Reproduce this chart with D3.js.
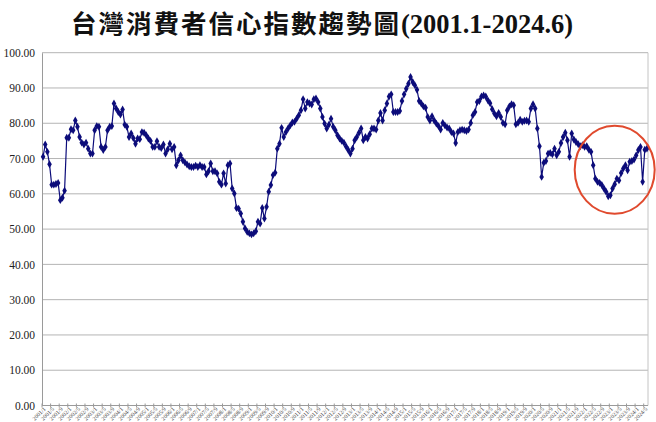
<!DOCTYPE html>
<html>
<head>
<meta charset="utf-8">
<script src="https://cdn.jsdelivr.net/npm/d3@7"></script>
<style>
  body { margin: 0; background: #fff; }
  svg { display: block; }
</style>
</head>
<body>
<svg id="chart"></svg>
<script>
// 台灣消費者信心指數, monthly, 2001.1 - 2024.6
const v2001 = [70.5, 74.0, 71.9, 68.4, 62.6, 62.6, 62.8, 63.1, 58.2, 58.9, 60.9, 75.9];
const v2002 = [75.9, 78.3, 78.0, 80.8, 79.0, 76.1, 74.5, 74.0, 74.5, 72.8, 71.4, 71.4];
const v2003 = [78.0, 79.2, 79.0, 73.3, 72.4, 73.3, 78.0, 79.0, 79.2, 85.6, 84.2, 83.2];
const v2004 = [82.5, 83.9, 79.6, 79.0, 76.1, 77.1, 75.8, 74.2, 75.7, 75.5, 77.5, 77.3];
const v2005 = [76.6, 75.7, 75.0, 73.3, 73.3, 74.9, 73.3, 73.0, 74.0, 71.4, 72.6, 74.2];
const v2006 = [72.6, 73.3, 68.1, 69.5, 70.9, 69.5, 68.9, 68.3, 67.8, 67.6, 67.6, 68.0];
const v2007 = [67.6, 68.1, 67.6, 67.6, 65.5, 66.4, 68.6, 66.4, 66.4, 65.8, 63.4, 62.6];
const v2008 = [65.8, 62.9, 68.1, 68.6, 61.5, 60.1, 56.0, 55.8, 54.4, 52.1, 50.2, 49.2];
const v2009 = [48.8, 48.5, 48.8, 49.4, 52.1, 51.6, 56.0, 53.0, 56.3, 60.6, 62.5, 65.3];
const v2010 = [66.0, 72.8, 74.2, 78.7, 76.1, 77.5, 78.5, 79.4, 80.2, 80.4, 81.3, 82.3];
const v2011 = [83.7, 86.8, 84.2, 86.0, 85.6, 85.3, 86.8, 87.0, 86.0, 84.2, 81.8, 79.9];
const v2012 = [78.5, 79.6, 81.3, 79.0, 78.0, 76.6, 75.7, 75.0, 74.5, 73.4, 72.4, 71.4];
const v2013 = [72.8, 75.2, 76.1, 77.3, 78.5, 75.2, 76.1, 75.7, 76.9, 78.5, 78.5, 78.2];
const v2014 = [80.8, 82.9, 80.8, 83.7, 85.6, 87.6, 88.2, 83.2, 83.2, 83.2, 83.5, 86.3];
const v2015 = [88.2, 89.8, 91.2, 93.1, 91.7, 90.8, 89.5, 86.3, 85.6, 84.8, 84.4, 81.8];
const v2016 = [80.8, 82.0, 80.8, 79.9, 79.2, 78.2, 80.1, 79.4, 78.8, 78.5, 77.5, 77.1];
const v2017 = [74.4, 77.5, 78.0, 78.2, 78.0, 77.8, 78.2, 80.1, 82.3, 83.2, 86.0, 86.3];
const v2018 = [87.6, 87.9, 87.6, 86.5, 85.7, 84.0, 82.8, 82.0, 82.9, 81.8, 80.1, 79.7];
const v2019 = [83.7, 84.8, 85.4, 85.1, 79.7, 80.1, 81.0, 80.4, 80.7, 80.8, 80.4, 84.2];
const v2020 = [85.4, 84.2, 78.5, 73.5, 64.8, 68.8, 69.3, 71.4, 71.6, 71.2, 72.8, 70.9];
const v2021 = [71.9, 74.4, 76.1, 77.3, 75.2, 70.5, 77.1, 75.4, 74.7, 74.1, 73.5, 73.8];
const v2022 = [73.3, 73.5, 72.5, 71.9, 68.1, 64.3, 63.4, 63.1, 62.5, 61.5, 60.6, 59.3];
const v2023 = [59.6, 61.5, 62.7, 64.3, 63.8, 65.9, 67.2, 68.1, 66.7, 69.1, 69.3, 69.7];
const v2024 = [70.9, 72.4, 73.3, 63.4, 72.5, 72.8];

const yearly = [v2001, v2002, v2003, v2004, v2005, v2006, v2007, v2008, v2009, v2010, v2011, v2012,
                v2013, v2014, v2015, v2016, v2017, v2018, v2019, v2020, v2021, v2022, v2023, v2024];
const startYear = 2001;
const yTicks = [0, 10, 20, 30, 40, 50, 60, 70, 80, 90, 100];
const title = "台灣消費者信心指數趨勢圖";
const titleRange = "(2001.1-2024.6)";

// flatten into {label, value}
var data = [];
yearly.forEach(function(arr, k) {
  arr.forEach(function(v, m) {
    data.push({ label: (startYear + k) + "/" + (m + 1), value: v });
  });
});

const W = 656, H = 422;
const margin = { top: 52.7, right: 8, bottom: 17, left: 42 };
const width = W - margin.left - margin.right;
const height = 405.5 - margin.top;

var svg = d3.select("#chart").attr("width", W).attr("height", H);

// title
var t = svg.append("text")
  .attr("x", 322).attr("y", 33)
  .attr("text-anchor", "middle")
  .style("font-weight", "bold")
  .style("font-size", "25.5px")
  .attr("fill", "#111");
t.append("tspan").text(title)
  .style("font-family", "'Noto Sans CJK TC', 'Noto Sans CJK SC', sans-serif")
  .style("letter-spacing", "2px");
t.append("tspan").text(titleRange)
  .style("font-family", "'Liberation Serif', 'DejaVu Serif', serif")
  .style("font-size", "26.5px");

var g = svg.append("g")
  .attr("transform", "translate(" + margin.left + "," + margin.top + ")");

var x = d3.scaleBand().domain(d3.range(data.length)).range([0, width]);
var y = d3.scaleLinear().domain([0, 100]).range([height, 0]);
var cx = i => x(i) + x.bandwidth() / 2;

// gridlines
g.append("g").selectAll("line")
  .data(yTicks.filter(d => d > 0))
  .enter().append("line")
  .attr("x1", 0).attr("x2", width)
  .attr("y1", d => y(d)).attr("y2", d => y(d))
  .attr("stroke", "#b4b4b4").attr("stroke-width", 1);

// right border of plot area
g.append("line")
  .attr("x1", width).attr("x2", width)
  .attr("y1", 0).attr("y2", height)
  .attr("stroke", "#c4c4c4");

// y axis
var yAxis = g.append("g")
  .call(d3.axisLeft(y).tickValues(yTicks).tickFormat(d3.format(".2f")).tickSize(0).tickPadding(7));
yAxis.select(".domain").attr("stroke", "#9a9a9a");
yAxis.selectAll("text")
  .style("font-family", "'Liberation Serif', 'DejaVu Serif', serif")
  .style("font-size", "11.5px")
  .attr("fill", "#222");

// x axis: ticks every 4 months, tiny slanted labels
var tickIdx = d3.range(0, data.length, 4);
var xg = g.append("g").attr("transform", "translate(0," + height + ")");
xg.append("line").attr("x1", 0).attr("x2", width).attr("stroke", "#9a9a9a");
xg.selectAll(".tk").data(tickIdx).enter().append("line")
  .attr("class", "tk")
  .attr("x1", d => x(d)).attr("x2", d => x(d))
  .attr("y1", -2).attr("y2", 2)
  .attr("stroke", "#9a9a9a");
xg.selectAll(".lb").data(tickIdx).enter().append("text")
  .attr("class", "lb")
  .attr("transform", d => "translate(" + (cx(d) + 3) + ",4) rotate(-45)")
  .attr("text-anchor", "end")
  .style("font-family", "'Liberation Serif', serif")
  .style("font-size", "5.8px")
  .attr("fill", "#444")
  .text(d => data[d].label);

// series
var line = d3.line()
  .x((d, i) => cx(i))
  .y(d => y(d.value));

g.append("path")
  .datum(data)
  .attr("fill", "none")
  .attr("stroke", "#0c0c7a")
  .attr("stroke-width", 1.2)
  .attr("d", line);

g.selectAll(".pt")
  .data(data)
  .enter().append("path")
  .attr("class", "pt")
  .attr("transform", (d, i) => "translate(" + cx(i) + "," + y(d.value) + ")")
  .attr("d", d3.symbol().type(d3.symbolDiamond).size(18))
  .attr("fill", "#0c0c7a");

// red highlight ring around the 2022-2024 dip
g.append("ellipse")
  .attr("cx", cx(266))
  .attr("cy", y(66.8))
  .attr("rx", 40).attr("ry", 44)
  .attr("fill", "none")
  .attr("stroke", "#e04a2e")
  .attr("stroke-width", 2);
</script>
</body>
</html>
